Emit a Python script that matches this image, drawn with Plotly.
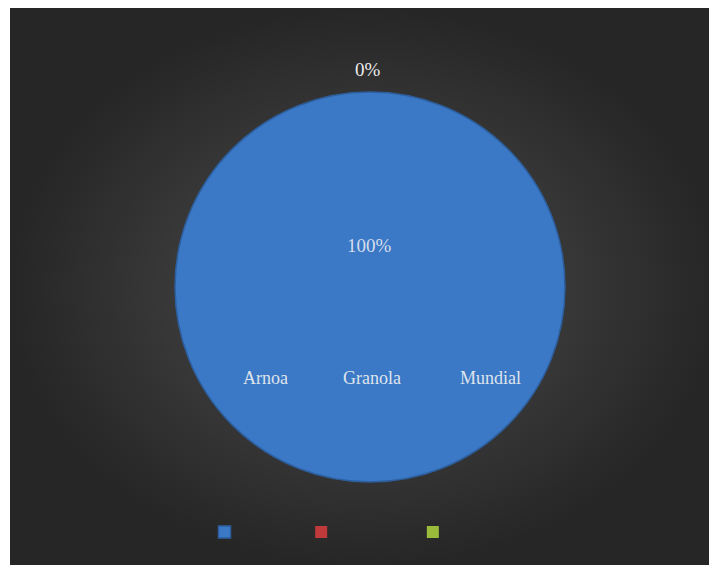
import plotly.graph_objects as go

categories = ["Arnoa", "Granola", "Mundial"]
values = [100, 0, 0]
slice_colors = ["#3b78c6", "#c0393b", "#9bbb3b"]

W, H = 717, 565
OX, OY = 8, 8  # page body offset of the plot in the window
total = sum(values)
pcts = [f"{round(100 * v / total)}%" for v in values]


def px(x):
    return (x - OX) / W


def py(y):
    return 1 - (y - OY) / H


fig = go.Figure()

# dark background panel with radial gradient
fig.add_trace(go.Scatter(
    x=[px(10), px(719), px(719), px(10), px(10)], y=[py(567), py(567), py(8), py(8), py(567)],
    mode="lines", fill="toself", line=dict(width=0),
    fillgradient=dict(type="radial", colorscale=[[0, "#505050"], [0.6, "#363636"], [1, "#262626"]]),
    hoverinfo="skip", showlegend=False,
))

fig.add_trace(go.Pie(
    labels=categories, values=values, sort=False, direction="clockwise",
    marker=dict(colors=slice_colors, line=dict(color="#2d5f9e", width=[1.5, 0, 0])),
    textinfo="none", hoverinfo="label+percent",
    domain=dict(x=[px(175), px(565)], y=[py(482), py(92)]),
))

annotations = [
    dict(x=px(368), y=py(70), text=pcts[1], font=dict(size=19, color="#ececec")),
    dict(x=px(369), y=py(245), text=pcts[0], font=dict(size=19, color="#d5deea")),
]
for cx, name in zip([265, 372, 490], categories):
    annotations.append(dict(x=px(cx), y=py(378), text=name,
                            font=dict(size=18, color="#dfe4ec")))
for a in annotations:
    a.update(xref="paper", yref="paper", showarrow=False,
             xanchor="center", yanchor="middle")
    a["font"]["family"] = "Liberation Serif"

fig.update_layout(
    width=W, height=H,
    margin=dict(l=0, r=0, t=0, b=0),
    paper_bgcolor="white", plot_bgcolor="rgba(0,0,0,0)",
    xaxis=dict(range=[0, 1], visible=False, fixedrange=True),
    yaxis=dict(range=[0, 1], visible=False, fixedrange=True),
    annotations=annotations,
    showlegend=True,
    legend=dict(orientation="h", x=px(224 - 19.5), xanchor="left",
                y=py(532), yanchor="middle",
                font=dict(family="Liberation Serif", size=20.7, color="rgba(0,0,0,0)"),
                bgcolor="rgba(0,0,0,0)"),
)

fig.write_html("out.html")
